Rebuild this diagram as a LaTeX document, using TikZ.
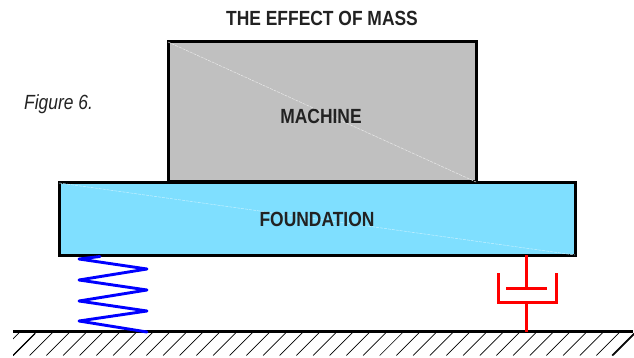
\documentclass[tikz,border=0pt]{standalone}
\usepackage{fontspec}
\setmainfont{Liberation Sans}
\definecolor{txt}{HTML}{222222}
\definecolor{machinefill}{HTML}{C0C0C0}
\definecolor{foundfill}{HTML}{7FDFFF}
\tikzset{
  boxshape/.style={draw=black,line width=3pt,rectangle,inner sep=0pt,outer sep=0pt},
  caption/.style={text=txt,inner sep=0pt,font=\fontsize{20.5}{20.5}\selectfont\bfseries},
  sheen/.style={line width=0.5pt,dash pattern=on 3pt off 1pt},
  coil/.style={draw=blue,line width=2.9pt,line cap=round,line join=round},
  dash pot/.style={draw=red,line width=3pt},
  hatchline/.style={draw=black,line width=0.7pt},
  groundline/.style={draw=black,line width=2.4pt}
}
\begin{document}
\begin{tikzpicture}[x=1pt,y=-1pt]
\useasboundingbox (0,0) rectangle (634,358);
% hatching
\begin{scope}
\clip (13,332) rectangle (634,356);
\foreach \k in {-1,0,...,36} {
  \draw[hatchline] ({13+16.67*\k},355.5) -- ++(23,-23);
}
\draw[hatchline,line width=1.1pt] (13,355.5) -- ++(22,-22);
\draw[hatchline,line width=1.1pt] (612,355.5) -- ++(22,-22);
\end{scope}
\coordinate (gl) at (13,331.5);
\coordinate (gr) at (633,331.5);
\draw[groundline] (gl) -- (gr);
% boxes
\node[boxshape,fill=machinefill,minimum width=308pt,minimum height=140pt] (machine) at (322,112) {};
\node[boxshape,fill=foundfill,minimum width=516pt,minimum height=72pt] (foundation) at (317,219) {};
\draw[sheen,draw=white!65!machinefill] (machine.north west) -- (machine.south east);
\draw[sheen,draw=white!55!foundfill] (foundation.north west) -- (foundation.south east);
% labels
\node[caption] (ttl) at (322,18.5) {\scalebox{0.85}[1]{THE EFFECT OF MASS}};
\node[caption] (mlab) at (321,116.5) {\scalebox{0.85}[1]{MACHINE}};
\node[caption] (flab) at (317,219.5) {\scalebox{0.85}[1]{FOUNDATION}};
\node[text=txt,inner sep=0pt,font=\fontsize{20.5}{20.5}\selectfont\itshape] (figl) at (58.5,104) {\scalebox{0.85}[1]{Figure 6.}};
% spring
\coordinate (st) at (100,256.5);
\coordinate (sb) at (147,332);
\draw[coil] (st) -- (79,259) -- (147,269) -- (79,280) -- (147,290) -- (79,301) -- (147,311) -- (79,321) -- (sb);
% damper
\coordinate (dt) at (526.7,255);
\coordinate (dp) at (526.7,288);
\coordinate (dc) at (526.7,302);
\coordinate (db) at (526.7,332);
\draw[dash pot] (dt) -- (dp);
\draw[dash pot] (506,288.5) -- (547,288.5);
\draw[dash pot,line join=miter] (498,273) -- (498,302) -- (556,302) -- (556,273);
\draw[dash pot] (dc) -- (db);
\end{tikzpicture}
\end{document}
